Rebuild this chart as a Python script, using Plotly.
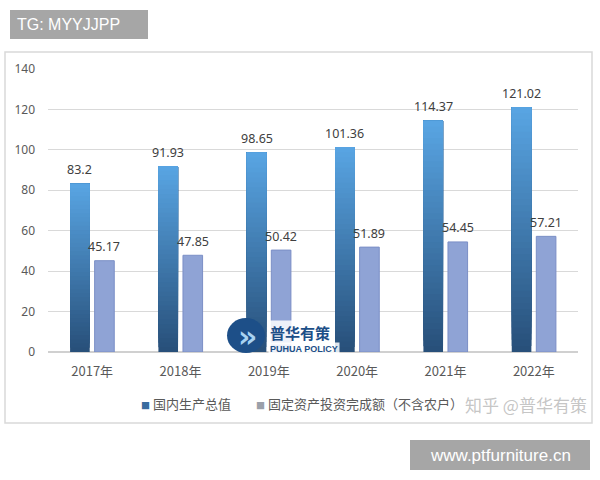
import plotly.graph_objects as go

years = ["2017年", "2018年", "2019年", "2020年", "2021年", "2022年"]
gdp = [83.2, 91.93, 98.65, 101.36, 114.37, 121.02]
fai = [45.17, 47.85, 50.42, 51.89, 54.45, 57.21]
series_names = ["国内生产总值", "固定资产投资完成额（不含农户）"]
y_ticks = [0, 20, 40, 60, 80, 100, 120, 140]

W, H = 600, 480
L, R, T, B = 48, 22, 69, 128
PW, PH = W - L - R, H - T - B

def px(x):
    return (x - L) / PW

def py(y):
    return (H - B - y) / PH

FONT = "Noto Sans CJK SC, Noto Sans, sans-serif"
NUMFONT = "Noto Sans, Liberation Sans, sans-serif"
xs = list(range(len(years)))

fig = go.Figure()

# gradient blue bars: overlapping slices, each reaching the value top
N = 40
top_rgb = (88, 164, 226)
bot_rgb = (40, 80, 122)
for k in range(N):
    t = k / (N - 1)
    c = tuple(int(round(bot_rgb[i] + (top_rgb[i] - bot_rgb[i]) * t)) for i in range(3))
    fig.add_trace(go.Bar(
        x=xs, y=[v * (N - k) / N for v in gdp], base=[v * k / N for v in gdp],
        offset=-0.25, width=0.222,
        marker=dict(color="rgb(%d,%d,%d)" % c, line=dict(width=0)),
        name=series_names[0], showlegend=False, hoverinfo="skip",
    ))

fig.add_trace(go.Bar(
    x=xs, y=fai, offset=0.028, width=0.222,
    marker=dict(color="#8fa3d5", line=dict(color="#7b8fc6", width=1)),
    name=series_names[1], showlegend=False,
))

shapes = []
annotations = []

# data labels
for i, v in enumerate(gdp):
    annotations.append(dict(x=i - 0.139, y=v, xref="x", yref="y", text="%g" % v, showarrow=False,
                            yshift=14, yanchor="middle", font=dict(size=12.5, color="#404040", family=NUMFONT)))
for i, v in enumerate(fai):
    annotations.append(dict(x=i + 0.139, y=v, xref="x", yref="y", text="%g" % v, showarrow=False,
                            yshift=14, yanchor="middle", font=dict(size=12.5, color="#404040", family=NUMFONT)))

# chart frame
shapes.append(dict(type="rect", xref="paper", yref="paper", x0=px(5), x1=px(592), y0=py(423), y1=py(52),
                   line=dict(color="#d9d9d9", width=1.5), fillcolor="rgba(0,0,0,0)", layer="below"))

# top-left label
shapes.append(dict(type="rect", xref="paper", yref="paper", x0=px(10), x1=px(148), y0=py(39), y1=py(10),
                   line=dict(width=0), fillcolor="#a6a6a6"))
annotations.append(dict(xref="paper", yref="paper", x=px(15), y=py(24.5), xanchor="left", yanchor="middle",
                        text="TG: MYYJJPP", showarrow=False, font=dict(size=16, color="white", family="Liberation Sans, Arial")))

# bottom-right watermark
shapes.append(dict(type="rect", xref="paper", yref="paper", x0=px(410), x1=px(590), y0=py(470), y1=py(440),
                   line=dict(width=0), fillcolor="#a6a6a6"))
annotations.append(dict(xref="paper", yref="paper", x=px(500), y=py(455), xanchor="center", yanchor="middle",
                        text="www.ptfurniture.cn", showarrow=False, font=dict(size=17, color="white", family="Liberation Sans, Arial")))

# legend (manual)
annotations.append(dict(xref="paper", yref="paper", x=px(139), y=py(403), xanchor="left", yanchor="middle",
                        text="<span style='color:#3a6c9e;font-size:9px'>■</span> " + series_names[0], showarrow=False,
                        font=dict(size=13, color="#595959", family=FONT)))
annotations.append(dict(xref="paper", yref="paper", x=px(254), y=py(403), xanchor="left", yanchor="middle",
                        text="<span style='color:#9aa0aa;font-size:9px'>■</span> " + series_names[1], showarrow=False,
                        font=dict(size=13, color="#595959", family=FONT)))

# zhihu watermark
annotations.append(dict(xref="paper", yref="paper", x=px(589), y=py(404), xanchor="right", yanchor="middle",
                        text="知乎 @普华有策", showarrow=False, bgcolor="rgba(255,255,255,0.5)",
                        font=dict(size=17, color="rgba(190,190,190,0.9)", family=FONT)))

# logo
shapes.append(dict(type="circle", xref="paper", yref="paper", x0=px(227), x1=px(265), y0=py(353), y1=py(318),
                   line=dict(width=0), fillcolor="#1d4f88"))
annotations.append(dict(xref="paper", yref="paper", x=px(247), y=py(336), xanchor="center", yanchor="middle",
                        text="<b>»</b>", showarrow=False, font=dict(size=30, color="#a9d3f2", family="DejaVu Sans")))
annotations.append(dict(xref="paper", yref="paper", x=px(268), y=py(332), xanchor="left", yanchor="middle",
                        text="<b>普华有策</b>", showarrow=False, bgcolor="rgba(255,255,255,0.85)",
                        font=dict(size=15, color="#1d4f88", family=FONT)))
annotations.append(dict(xref="paper", yref="paper", x=px(268), y=py(349), xanchor="left", yanchor="middle",
                        text="<b>PUHUA POLICY</b>", showarrow=False, bgcolor="rgba(255,255,255,0.85)",
                        font=dict(size=9, color="#1d4f88", family="Liberation Sans, Arial")))

fig.update_layout(
    width=W, height=H,
    margin=dict(l=L, r=R, t=T, b=B, autoexpand=False),
    paper_bgcolor="white", plot_bgcolor="white",
    barmode="overlay",
    showlegend=False,
    shapes=shapes, annotations=annotations,
    xaxis=dict(range=[-0.5, 5.5], tickmode="array", tickvals=xs, ticktext=years,
               showgrid=False, zeroline=False, showline=False, ticks="", ticklabelstandoff=10,
               tickfont=dict(size=13, color="#595959", family=FONT)),
    yaxis=dict(range=[0, 140], tickmode="array", tickvals=y_ticks, showgrid=True,
               gridcolor="#d9d9d9", gridwidth=1, zeroline=True, zerolinecolor="#d0d0d0",
               showline=False, ticks="", ticklabelstandoff=12,
               tickfont=dict(size=12, color="#595959", family=NUMFONT)),
)

fig.write_html("out.html", config={"displayModeBar": False},
               post_script="document.body.style.margin='0';document.body.style.overflow='hidden';")
